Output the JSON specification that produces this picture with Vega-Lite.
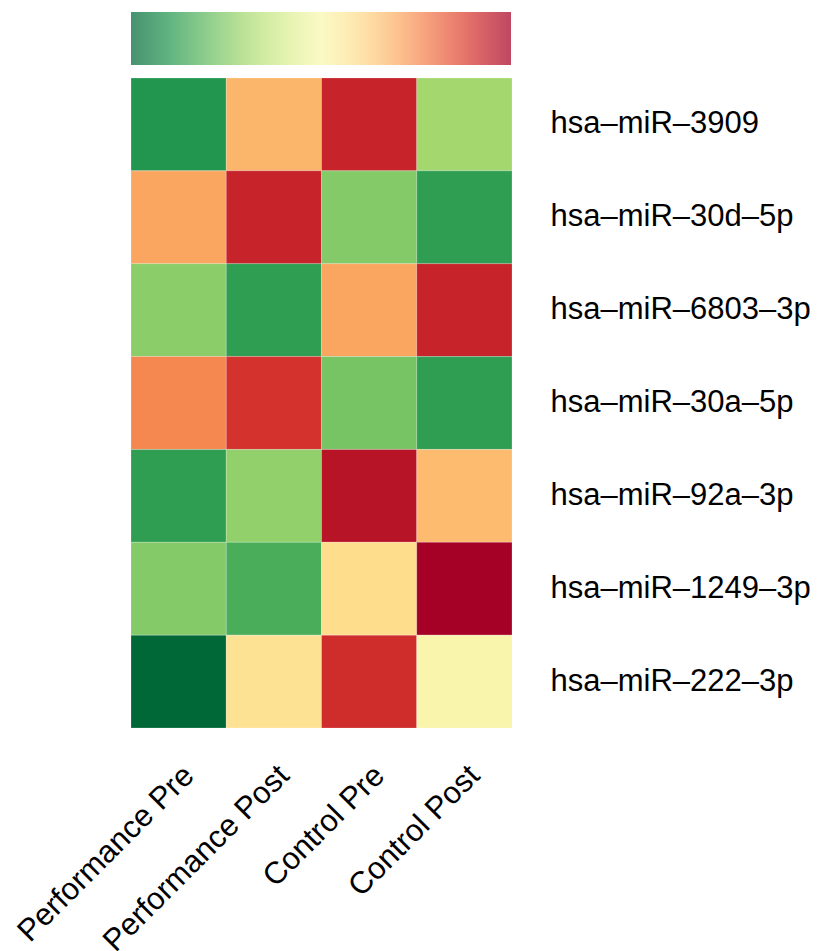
{
  "$schema": "https://vega.github.io/schema/vega-lite/v6.json",
  "autosize": {"type": "none"},
  "width": 381,
  "height": 650,
  "padding": {"left": 131, "top": 78, "right": 305, "bottom": 223},
  "background": "white",
  "config": {
    "view": {"stroke": null},
    "font": "Liberation Sans"
  },
  "data": {
    "values": [
      {"mirna": "hsa–miR–3909", "group": "Performance Pre", "value": -1.2},
      {"mirna": "hsa–miR–3909", "group": "Performance Post", "value": 0.54},
      {"mirna": "hsa–miR–3909", "group": "Control Pre", "value": 1.29},
      {"mirna": "hsa–miR–3909", "group": "Control Post", "value": -0.6},
      {"mirna": "hsa–miR–30d–5p", "group": "Performance Pre", "value": 0.63},
      {"mirna": "hsa–miR–30d–5p", "group": "Performance Post", "value": 1.29},
      {"mirna": "hsa–miR–30d–5p", "group": "Control Pre", "value": -0.75},
      {"mirna": "hsa–miR–30d–5p", "group": "Control Post", "value": -1.14},
      {"mirna": "hsa–miR–6803–3p", "group": "Performance Pre", "value": -0.72},
      {"mirna": "hsa–miR–6803–3p", "group": "Performance Post", "value": -1.14},
      {"mirna": "hsa–miR–6803–3p", "group": "Control Pre", "value": 0.63},
      {"mirna": "hsa–miR–6803–3p", "group": "Control Post", "value": 1.29},
      {"mirna": "hsa–miR–30a–5p", "group": "Performance Pre", "value": 0.78},
      {"mirna": "hsa–miR–30a–5p", "group": "Performance Post", "value": 1.2},
      {"mirna": "hsa–miR–30a–5p", "group": "Control Pre", "value": -0.81},
      {"mirna": "hsa–miR–30a–5p", "group": "Control Post", "value": -1.14},
      {"mirna": "hsa–miR–92a–3p", "group": "Performance Pre", "value": -1.14},
      {"mirna": "hsa–miR–92a–3p", "group": "Performance Post", "value": -0.69},
      {"mirna": "hsa–miR–92a–3p", "group": "Control Pre", "value": 1.38},
      {"mirna": "hsa–miR–92a–3p", "group": "Control Post", "value": 0.51},
      {"mirna": "hsa–miR–1249–3p", "group": "Performance Pre", "value": -0.75},
      {"mirna": "hsa–miR–1249–3p", "group": "Performance Post", "value": -1.02},
      {"mirna": "hsa–miR–1249–3p", "group": "Control Pre", "value": 0.3},
      {"mirna": "hsa–miR–1249–3p", "group": "Control Post", "value": 1.5},
      {"mirna": "hsa–miR–222–3p", "group": "Performance Pre", "value": -1.5},
      {"mirna": "hsa–miR–222–3p", "group": "Performance Post", "value": 0.24},
      {"mirna": "hsa–miR–222–3p", "group": "Control Pre", "value": 1.23},
      {"mirna": "hsa–miR–222–3p", "group": "Control Post", "value": 0.02}
    ]
  },
  "mark": {"type": "rect", "stroke": "#ffffff", "strokeWidth": 0.6, "strokeOpacity": 0.35},
  "encoding": {
    "x": {
      "field": "group",
      "type": "nominal",
      "sort": null,
      "scale": {"paddingInner": 0, "paddingOuter": 0},
      "axis": {
        "orient": "bottom",
        "title": null,
        "ticks": false,
        "domain": false,
        "labelAngle": -45,
        "labelAlign": "right",
        "labelBaseline": "top",
        "labelFontSize": 31,
        "labelColor": "#000000",
        "labelFont": "Liberation Sans",
        "labelPadding": 32,
        "labelLimit": 0
      }
    },
    "y": {
      "field": "mirna",
      "type": "nominal",
      "sort": null,
      "scale": {"paddingInner": 0, "paddingOuter": 0},
      "axis": {
        "orient": "right",
        "title": null,
        "ticks": false,
        "domain": false,
        "labelFontSize": 31,
        "labelColor": "#000000",
        "labelFont": "Liberation Sans",
        "labelPadding": 38,
        "labelLimit": 0
      }
    },
    "color": {
      "field": "value",
      "type": "quantitative",
      "scale": {"scheme": "redyellowgreen", "reverse": true, "domain": [-1.5, 1.5]},
      "legend": {
        "orient": "top",
        "direction": "horizontal",
        "title": null,
        "values": [],
        "labelOpacity": 0,
        "labelFontSize": 0,
        "gradientLength": 380,
        "gradientThickness": 53,
        "gradientOpacity": 0.72,
        "gradientStrokeWidth": 0,
        "offset": 13,
        "padding": 0
      }
    }
  }
}
